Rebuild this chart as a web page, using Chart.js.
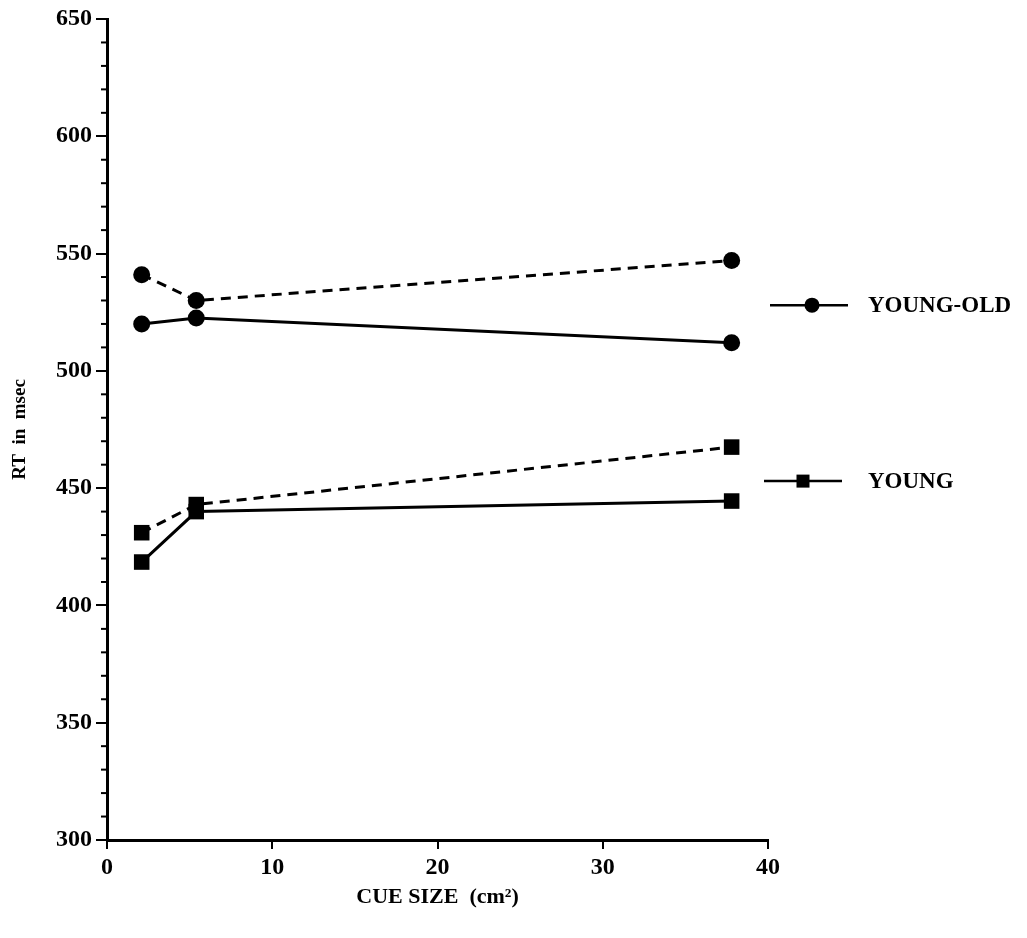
<!DOCTYPE html>
<html>
<head>
<meta charset="utf-8">
<script src="https://cdn.jsdelivr.net/npm/chart.js@4"></script>
<style>
  html, body { margin: 0; padding: 0; background: #fff; }
  #wrap { width: 1027px; height: 938px; }
</style>
</head>
<body>
<div id="wrap"><canvas id="rtChart" width="1027" height="938"></canvas></div>
<script>
// cue sizes (cm^2)
const cueSize = [2.1, 5.4, 37.8];

// reaction times, msec
const youngOldSolid = [520, 522.5, 512];
const youngOldDashed = [541, 530, 547];
const youngSolid = [418.5, 440, 444.5];
const youngDashed = [431, 443, 467.5];

const legendNames = ['YOUNG-OLD', 'YOUNG'];
const xTicks = [0, 10, 20, 30, 40];

const FONT = '"Liberation Serif", "DejaVu Serif", serif';

function pts(vals) {
    return vals.map((v, i) => ({ x: cueSize[i], y: v }));
}

function series(label, vals, marker, dashed) {
    return {
        label: label,
        data: pts(vals),
        borderColor: '#000',
        backgroundColor: '#000',
        borderWidth: 3,
        borderDash: dashed ? [10, 7] : [],
        pointStyle: marker,
        pointRadius: marker === 'rect' ? 11 : 8.5,
        pointBorderWidth: 0,
        showLine: true,
        tension: 0
    };
}

// minor ticks on the y axis + legend on the right
const extras = {
    id: 'extras',
    afterDraw(chart) {
        const c = chart.ctx;
        const y = chart.scales.y;
        const x = chart.scales.x;
        c.save();
        c.strokeStyle = '#000';
        c.lineWidth = 2;
        for (let v = 300; v <= 650; v += 10) {
            if (v % 50 === 0) continue;
            const py = y.getPixelForValue(v);
            c.beginPath();
            c.moveTo(x.left - 6, py);
            c.lineTo(x.left, py);
            c.stroke();
        }

        // legend
        const legendAt = [528, 453];
        const markers = ['circle', 'rect'];
        const lineFrom = [770, 764];
        const markAt = [812, 803];
        legendAt.forEach((v, i) => {
            const py = y.getPixelForValue(v);
            c.lineWidth = 2.5;
            c.beginPath();
            c.moveTo(lineFrom[i], py);
            c.lineTo(lineFrom[i] + 78, py);
            c.stroke();
            c.fillStyle = '#000';
            if (markers[i] === 'circle') {
                c.beginPath();
                c.arc(markAt[i], py, 7.5, 0, Math.PI * 2);
                c.fill();
            } else {
                c.fillRect(markAt[i] - 6.5, py - 6.5, 13, 13);
            }
            c.font = 'bold 23px ' + FONT;
            c.textBaseline = 'middle';
            c.textAlign = 'left';
            c.fillText(legendNames[i], 868, py + 1);
        });
        c.restore();
    }
};

const ctx = document.getElementById('rtChart').getContext('2d');
new Chart(ctx, {
    type: 'scatter',
    data: {
        datasets: [
            series('YOUNG-OLD dashed', youngOldDashed, 'circle', true),
            series('YOUNG-OLD', youngOldSolid, 'circle', false),
            series('YOUNG dashed', youngDashed, 'rect', true),
            series('YOUNG', youngSolid, 'rect', false)
        ]
    },
    options: {
        responsive: false,
        animation: false,
        layout: { padding: { top: 19, right: 259, left: 0, bottom: 0 } },
        plugins: {
            legend: { display: false },
            tooltip: { enabled: false }
        },
        scales: {
            x: {
                type: 'linear',
                min: 0,
                max: 40,
                afterBuildTicks: (s) => { s.ticks = xTicks.map(v => ({ value: v })); },
                afterFit: (s) => { s.height = 98; },
                border: { display: true, color: '#000', width: 3 },
                grid: { drawOnChartArea: false, color: '#000', lineWidth: 2, tickLength: 9 },
                ticks: {
                    color: '#000',
                    padding: 4,
                    font: { family: FONT, size: 24, weight: 'bold' }
                },
                title: {
                    display: true,
                    text: 'CUE SIZE  (cm²)',
                    color: '#000',
                    padding: { top: 0, bottom: 27 },
                    font: { family: FONT, size: 22, weight: 'bold' }
                }
            },
            y: {
                min: 300,
                max: 650,
                afterFit: (s) => { s.width = 107; },
                border: { display: true, color: '#000', width: 3 },
                grid: { drawOnChartArea: false, color: '#000', lineWidth: 2, tickLength: 11 },
                ticks: {
                    stepSize: 50,
                    color: '#000',
                    padding: 4,
                    font: { family: FONT, size: 24, weight: 'bold' }
                },
                title: {
                    display: true,
                    text: 'RT  in  msec',
                    color: '#000',
                    padding: { top: 9, bottom: 0 },
                    font: { family: FONT, size: 19, weight: 'bold' }
                }
            }
        }
    },
    plugins: [extras]
});
</script>
</body>
</html>
